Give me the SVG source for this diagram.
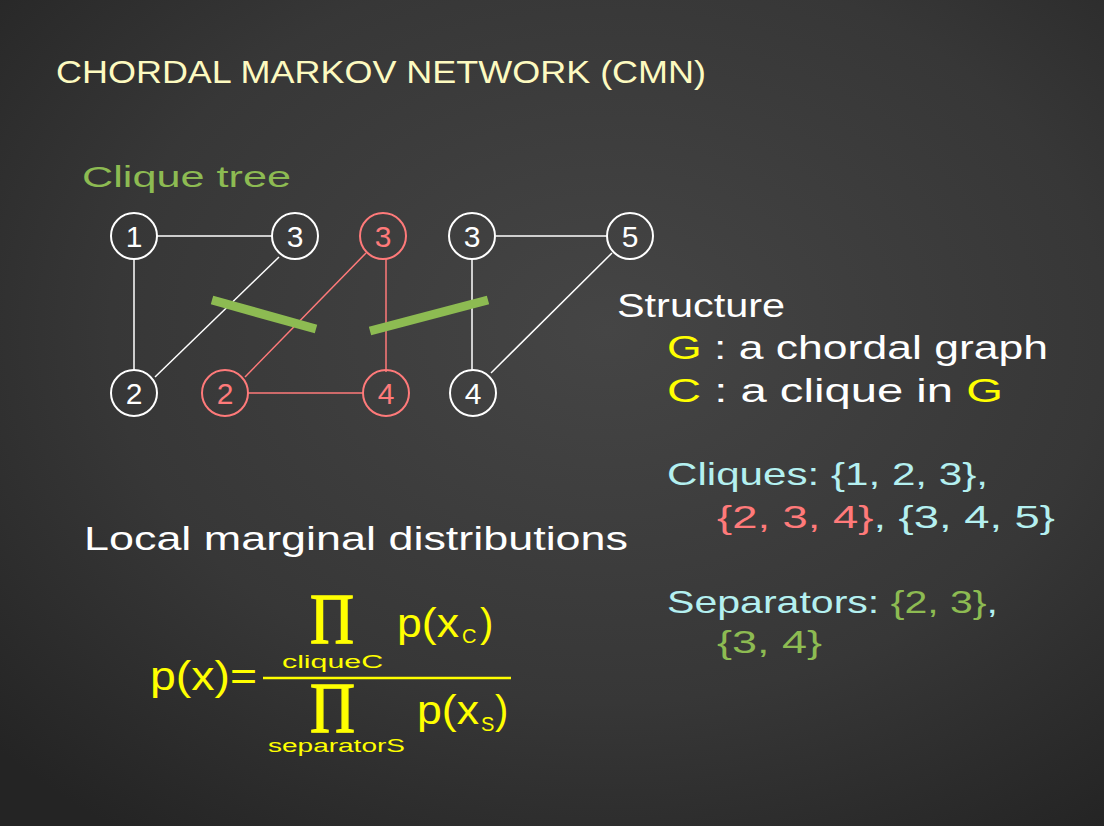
<svg xmlns="http://www.w3.org/2000/svg" width="1104" height="826" viewBox="0 0 1104 826">
<defs>
<radialGradient id="bg" cx="0.55" cy="0.4" r="0.75">
<stop offset="0" stop-color="#454545"/>
<stop offset="0.6" stop-color="#373737"/>
<stop offset="1" stop-color="#242424"/>
</radialGradient>
<style>
text{font-family:"Liberation Sans",Arial,sans-serif;}
.node circle{fill:none;stroke-width:2;}
.w circle{stroke:#ffffff;}
.w text{fill:#ffffff;}
.r circle{stroke:#ff7a7a;}
.r text{fill:#ff7a7a;}
.node text{font-size:30px;text-anchor:middle;}
.e{stroke:#ffffff;stroke-width:1.5;}
.er{stroke:#ff7a7a;stroke-width:1.5;}
.sep{stroke:#8dbb52;stroke-width:9;}
.y{fill:#ffff00;}
.cy{fill:#b4f0f0;}
.gr{fill:#8dbb52;}
.rd{fill:#ff7a7a;}
.wh{fill:#ffffff;}
.math{fill:#ffff00;}
.pi{font-family:"Liberation Serif","Times New Roman",serif;font-size:72px;stroke:#ffff00;stroke-width:1.4;}
.lim{font-size:18px;}
</style>
</defs>
<rect x="0" y="0" width="1104" height="826" fill="url(#bg)"/>

<text x="56" y="83" font-size="32" fill="#fdfac0" textLength="650" lengthAdjust="spacingAndGlyphs">CHORDAL MARKOV NETWORK (CMN)</text>
<text x="82" y="187" font-size="30" class="gr" textLength="209" lengthAdjust="spacingAndGlyphs">Clique tree</text>

<g id="connectors">
<line class="e" x1="157" y1="236" x2="272" y2="236"/>
<line class="e" x1="134" y1="259" x2="134" y2="370"/>
<line class="e" x1="155" y1="377" x2="279" y2="257"/>
<line class="er" x1="366" y1="253" x2="245" y2="377"/>
<line class="er" x1="386" y1="259" x2="386" y2="372"/>
<line class="er" x1="248" y1="393" x2="363" y2="393"/>
<line class="e" x1="496" y1="236" x2="607" y2="236"/>
<line class="e" x1="472" y1="259" x2="472" y2="370"/>
<line class="e" x1="491" y1="373" x2="612" y2="253"/>
</g>

<g id="separators">
<line class="sep" x1="212" y1="300" x2="316" y2="329"/>
<line class="sep" x1="370" y1="331" x2="488" y2="300"/>
</g>

<g id="n1" class="node w"><circle cx="134" cy="236" r="23"/><text x="134" y="247">1</text></g>
<g id="n3a" class="node w"><circle cx="295" cy="236" r="23"/><text x="295" y="247">3</text></g>
<g id="n3r" class="node r"><circle cx="383" cy="236" r="23"/><text x="383" y="247">3</text></g>
<g id="n3b" class="node w"><circle cx="472" cy="236" r="23"/><text x="472" y="247">3</text></g>
<g id="n5" class="node w"><circle cx="630" cy="236" r="23"/><text x="630" y="247">5</text></g>
<g id="n2" class="node w"><circle cx="134" cy="393" r="23"/><text x="134" y="404">2</text></g>
<g id="n2r" class="node r"><circle cx="225" cy="393" r="23"/><text x="225" y="404">2</text></g>
<g id="n4r" class="node r"><circle cx="386" cy="393" r="23"/><text x="386" y="404">4</text></g>
<g id="n4" class="node w"><circle cx="473" cy="393" r="23"/><text x="473" y="404">4</text></g>

<g id="structure">
<text x="617" y="317" font-size="33" class="wh" textLength="168" lengthAdjust="spacingAndGlyphs">Structure</text>
<text x="667" y="359" font-size="33" class="wh" textLength="381" lengthAdjust="spacingAndGlyphs"><tspan class="y">G</tspan> : a chordal graph</text>
<text x="667" y="402" font-size="33" class="wh" textLength="336" lengthAdjust="spacingAndGlyphs"><tspan class="y">C</tspan> : a clique in <tspan class="y">G</tspan></text>
</g>

<g id="cliques">
<text x="667" y="485" font-size="32" class="cy" textLength="321" lengthAdjust="spacingAndGlyphs">Cliques: {1, 2, 3},</text>
<text x="717" y="528" font-size="32" class="cy" textLength="338" lengthAdjust="spacingAndGlyphs"><tspan class="rd">{2, 3, 4}</tspan>, {3, 4, 5}</text>
</g>

<g id="separators-text">
<text x="667" y="613" font-size="32" class="cy" textLength="331" lengthAdjust="spacingAndGlyphs">Separators: <tspan class="gr">{2, 3}</tspan>,</text>
<text x="717" y="653" font-size="32" class="gr" textLength="105" lengthAdjust="spacingAndGlyphs">{3, 4}</text>
</g>

<text x="84" y="550" font-size="33" class="wh" textLength="544" lengthAdjust="spacingAndGlyphs">Local marginal distributions</text>

<g id="formula" class="math">
<text x="150" y="690" font-size="40" textLength="107" lengthAdjust="spacingAndGlyphs">p(x)=</text>
<line x1="263" y1="678" x2="511" y2="678" stroke="#ffff00" stroke-width="2.5"/>
<text class="math"><tspan class="pi" x="310" y="643" textLength="44" lengthAdjust="spacingAndGlyphs">Π</tspan><tspan class="lim" x="282" y="668" textLength="101" lengthAdjust="spacingAndGlyphs">cliqueC</tspan></text>
<text x="397" y="637" font-size="40" textLength="62" lengthAdjust="spacingAndGlyphs">p(x</text>
<text x="462" y="643" font-size="20">C</text>
<text x="480" y="637" font-size="40">)</text>
<text class="math"><tspan class="pi" x="310" y="732" textLength="45" lengthAdjust="spacingAndGlyphs">Π</tspan><tspan class="lim" x="268" y="752" textLength="137" lengthAdjust="spacingAndGlyphs">separatorS</tspan></text>
<text x="417" y="724" font-size="40" textLength="62" lengthAdjust="spacingAndGlyphs">p(x</text>
<text x="481" y="731" font-size="20">S</text>
<text x="495" y="724" font-size="40">)</text>
</g>
</svg>
